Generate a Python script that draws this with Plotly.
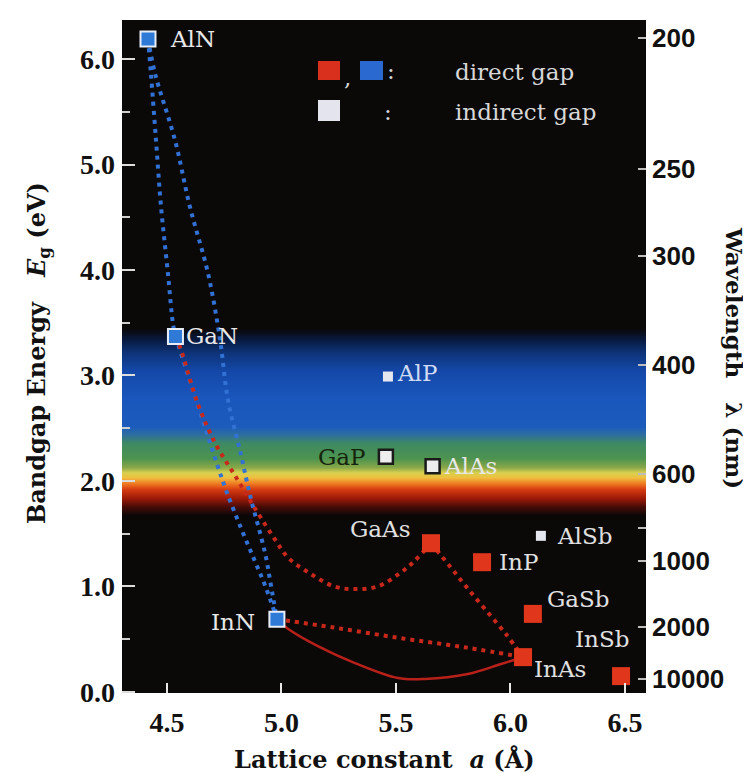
import plotly.graph_objects as go

# ---------------- data ----------------
nitride_names = ["AlN", "GaN", "InN"]
nitride_a = [4.417, 4.537, 4.98]
nitride_E = [6.19, 3.37, 0.69]

direct_names = ["GaAs", "InP", "GaSb", "InAs", "InSb"]
direct_a = [5.653, 5.876, 6.098, 6.055, 6.483]
direct_E = [1.41, 1.23, 0.74, 0.33, 0.15]

indirect_small_names = ["AlP", "AlSb"]
indirect_small_a = [5.465, 6.133]
indirect_small_E = [2.99, 1.48]

indirect_big_names = ["GaP", "AlAs"]
indirect_big_a = [5.456, 5.660]
indirect_big_E = [2.23, 2.14]

# alloy curves
AlN_GaN_a = [4.417, 4.430, 4.452, 4.474, 4.504, 4.526, 4.537]
AlN_GaN_E = [6.19, 5.86, 5.23, 4.60, 3.97, 3.49, 3.37]
AlN_InN_a = [4.417, 4.448, 4.535, 4.600, 4.679, 4.731, 4.766, 4.823, 4.862, 4.928, 4.954, 4.98]
AlN_InN_E = [6.19, 5.86, 5.23, 4.60, 3.97, 3.35, 2.77, 2.25, 1.87, 1.32, 1.01, 0.69]
GaN_InN_a = [4.537, 4.60, 4.66, 4.72, 4.76, 4.82, 4.88, 4.93, 4.98]
GaN_InN_E = [3.37, 2.95, 2.55, 2.15, 1.90, 1.57, 1.26, 1.00, 0.69]
GaN_GaAs_a = [4.537, 4.56, 4.635, 4.71, 4.80, 4.89, 4.97, 5.03, 5.12, 5.23, 5.32, 5.42, 5.52, 5.58, 5.653]
GaN_GaAs_E = [3.37, 3.25, 2.73, 2.36, 2.04, 1.72, 1.45, 1.27, 1.13, 1.00, 0.975, 1.00, 1.13, 1.24, 1.41]
GaAs_InAs_a = [5.653, 5.736, 5.806, 5.889, 5.980, 6.055]
GaAs_InAs_E = [1.41, 1.19, 1.00, 0.785, 0.549, 0.33]
InN_InAs_dot_a = [4.98, 5.23, 5.52, 5.81, 6.055]
InN_InAs_dot_E = [0.69, 0.61, 0.51, 0.42, 0.33]
InN_InAs_solid_a = [4.98, 5.028, 5.159, 5.321, 5.509, 5.627, 5.814, 5.959, 6.055]
InN_InAs_solid_E = [0.69, 0.60, 0.435, 0.274, 0.132, 0.123, 0.170, 0.265, 0.33]

# visible spectrum band (energy in eV, colour)
band_E = [1.68, 1.76, 1.84, 1.92, 1.98, 2.04, 2.08, 2.13, 2.22, 2.36, 2.44, 2.52, 2.80, 3.05, 3.22, 3.34, 3.45]
band_colors = ["#0b0707", "#4a0c06", "#9a1a08", "#d63a10", "#ee7a22", "#f0c040", "#d8d050",
               "#8aa848", "#4e9450", "#3f8a62", "#2e6ea0", "#1c5cbc", "#1a56bc", "#1448a8",
               "#0e3478", "#081a40", "#0b0808"]

# axis ticks
x_ticks = [4.5, 5.0, 5.5, 6.0, 6.5]
y_ticks = [0, 1, 2, 3, 4, 5, 6]
wl_ticks = [200, 250, 300, 400, 600, 1000, 2000, 10000]
wl_labels = ["200", "250", "300", "400", "600", "1000", "2000", "10000"]
wl_unlabeled_ticks = [800]

X_RANGE = [4.3035, 6.592]
Y_RANGE = [-0.01, 6.37]

# ---------------- figure ----------------
fig = go.Figure()

emin, emax = band_E[0], band_E[-1]
cscale = [[(e - emin) / (emax - emin), c] for e, c in zip(band_E, band_colors)]
fig.add_trace(go.Heatmap(
    x=[X_RANGE[0] - 0.05, X_RANGE[1] + 0.05], y=band_E,
    z=[[e, e] for e in band_E], colorscale=cscale, zmin=emin, zmax=emax,
    zsmooth="best", showscale=False, hoverinfo="skip"))

blue_line = dict(color="#3272d4", width=4, dash="4px,5px")
red_dot = dict(color="#c8281a", width=4, dash="4px,5px")
for xs, ys, ln in [(AlN_GaN_a, AlN_GaN_E, blue_line), (AlN_InN_a, AlN_InN_E, blue_line),
                   (GaN_InN_a, GaN_InN_E, blue_line), (GaN_GaAs_a, GaN_GaAs_E, red_dot),
                   (GaAs_InAs_a, GaAs_InAs_E, red_dot), (InN_InAs_dot_a, InN_InAs_dot_E, red_dot)]:
    fig.add_trace(go.Scatter(x=xs, y=ys, mode="lines", line=dict(shape="spline", smoothing=1.0, **ln),
                             showlegend=False, hoverinfo="skip"))
fig.add_trace(go.Scatter(x=InN_InAs_solid_a, y=InN_InAs_solid_E, mode="lines",
                         line=dict(color="#b8201a", width=2.5, shape="spline", smoothing=1.0),
                         showlegend=False, hoverinfo="skip"))

fig.add_trace(go.Scatter(x=nitride_a, y=nitride_E, mode="markers",
                         marker=dict(symbol="square", size=15, color="#2f7ad6",
                                     line=dict(color="#e8eef8", width=2)), showlegend=False))
fig.add_trace(go.Scatter(x=direct_a, y=direct_E, mode="markers",
                         marker=dict(symbol="square", size=18, color="#e0361c", line=dict(width=0)),
                         showlegend=False))
fig.add_trace(go.Scatter(x=indirect_small_a, y=indirect_small_E, mode="markers",
                         marker=dict(symbol="square", size=10, color="#e6e8f0", line=dict(width=0)),
                         showlegend=False))
fig.add_trace(go.Scatter(x=indirect_big_a, y=indirect_big_E, mode="markers",
                         marker=dict(symbol="square", size=14, color="#eeeeee",
                                     line=dict(color="#1a1a1a", width=2.5)), showlegend=False))
# invisible traces on right axes
for ya in ["y2", "y3"]:
    fig.add_trace(go.Scatter(x=[X_RANGE[0]], y=[Y_RANGE[0]], yaxis=ya, mode="markers",
                             marker=dict(opacity=0), showlegend=False, hoverinfo="skip"))

# ---------------- point labels ----------------
LBL_FONT = "DejaVu Serif"
label_cfg = {
    "AlN": (20, 0, "left", "#e8e8e8"),
    "GaN": (9, 0, "left", "#e8e8e8"),
    "InN": (-20, -3, "right", "#e8e8e8"),
    "AlP": (7, 4, "left", "#d0dcf4"),
    "GaP": (-18, 0, "right", "#15240c"),
    "AlAs": (9, 0, "left", "#e8e8e8"),
    "GaAs": (-51, 14, "center", "#e0e0e0"),
    "InP": (15, 0, "left", "#e0e0e0"),
    "AlSb": (14, 0, "left", "#e0e0e0"),
    "GaSb": (12, 15, "left", "#e0e0e0"),
    "InSb": (10, 37, "right", "#e0e0e0"),
    "InAs": (9, -12, "left", "#e0e0e0"),
}
all_names = nitride_names + direct_names + indirect_small_names + indirect_big_names
all_a = nitride_a + direct_a + indirect_small_a + indirect_big_a
all_E = nitride_E + direct_E + indirect_small_E + indirect_big_E
for n, a, e in zip(all_names, all_a, all_E):
    dx, dy, anc, col = label_cfg[n]
    fig.add_annotation(x=a, y=e, text=n, showarrow=False, xanchor=anc, yanchor="middle",
                       xshift=dx, yshift=dy, font=dict(family=LBL_FONT, size=23, color=col))

# ---------------- legend (keys) ----------------
def px2paper(px, py):
    return (px - 114) / 524, (685 - py) / 673

for (x0, y0, x1, y1, col) in [(310, 53, 332, 72, "#d8301c"), (352, 53, 375, 72, "#2a6ad0"),
                              (310, 92, 332, 113, "#e4e4ee")]:
    a0, b1 = px2paper(x0, y0)
    a1, b0 = px2paper(x1, y1)
    fig.add_shape(type="rect", xref="paper", yref="paper", x0=a0, x1=a1, y0=b0, y1=b1,
                  fillcolor=col, line=dict(width=0), layer="above")
for txt, px, py, anc in [(",", 339, 70, "center"), (":", 383, 63, "center"), (":", 380, 104, "center"),
                          ("direct gap", 445, 64, "left"), ("indirect gap", 445, 104, "left")]:
    xp, yp = px2paper(px, py)
    fig.add_annotation(x=xp, y=yp, xref="paper", yref="paper", text=txt, showarrow=False,
                       xanchor=anc, yanchor="middle",
                       font=dict(family=LBL_FONT, size=23, color="#d8d8d8"))

# ---------------- axis titles ----------------
TITLE_FONT = dict(family="DejaVu Serif", size=24, color="#111111", weight="bold")
fig.add_annotation(x=(30 - 114) / 524, y=(685 - 345) / 673, xref="paper", yref="paper",
                   text="Bandgap Energy   <i>E</i><sub>g</sub> (eV)", textangle=-90, showarrow=False,
                   xanchor="center", yanchor="middle", font=TITLE_FONT)
fig.add_annotation(x=(727 - 114) / 524, y=(685 - 350) / 673, xref="paper", yref="paper",
                   text="Wavelength   λ (nm)", textangle=90, showarrow=False,
                   xanchor="center", yanchor="middle",
                   font=dict(family="DejaVu Serif", size=23, color="#111111", weight="bold"))
fig.add_annotation(x=(376 - 114) / 524, y=(685 - 751) / 673, xref="paper", yref="paper",
                   text="Lattice constant  <i>a</i> (Å)", showarrow=False,
                   xanchor="center", yanchor="middle", font=TITLE_FONT)

TICK_FONT = dict(family="Liberation Serif", size=28, color="#111111", weight="bold")
fig.update_layout(
    width=751, height=773,
    margin=dict(l=114, r=113, t=12, b=88, pad=0, autoexpand=False),
    paper_bgcolor="white", plot_bgcolor="#0b0808",
    showlegend=False,
    xaxis=dict(range=X_RANGE, tickvals=x_ticks, ticktext=[f"{v:.1f}" for v in x_ticks],
               ticks="inside", ticklen=10, tickwidth=2, tickcolor="#e8e8e8", automargin=False,
               showgrid=False, zeroline=False, showline=False, tickfont=TICK_FONT,
               ticklabelstandoff=10),
    yaxis=dict(range=Y_RANGE, tickvals=y_ticks, ticktext=[f"{v:.1f}" for v in y_ticks],
               ticks="inside", ticklen=13, tickwidth=2, tickcolor="#dcdcdc", automargin=False,
               minor=dict(dtick=0.5, tick0=0, ticks="inside", ticklen=8, tickwidth=2, tickcolor="#cfcfcf"),
               showgrid=False, zeroline=False, showline=False, tickfont=TICK_FONT,
               ticklabelstandoff=6),
    yaxis2=dict(range=Y_RANGE, overlaying="y", side="right", automargin=False,
                tickvals=[1240.0 / w for w in wl_ticks], ticktext=wl_labels,
                ticks="inside", ticklen=8, tickwidth=2, tickcolor="#bdbdbd",
                showgrid=False, zeroline=False, showline=False,
                tickfont=dict(family="Liberation Sans", size=26,
                              color="#111111", weight="bold"),
                ticklabelstandoff=5),
    yaxis3=dict(range=Y_RANGE, overlaying="y", side="right", automargin=False,
                tickvals=[1240.0 / w for w in wl_unlabeled_ticks], showticklabels=False,
                ticks="inside", ticklen=8, tickwidth=2, tickcolor="#bdbdbd",
                showgrid=False, zeroline=False, showline=False),
)

fig.write_html("out.html")
